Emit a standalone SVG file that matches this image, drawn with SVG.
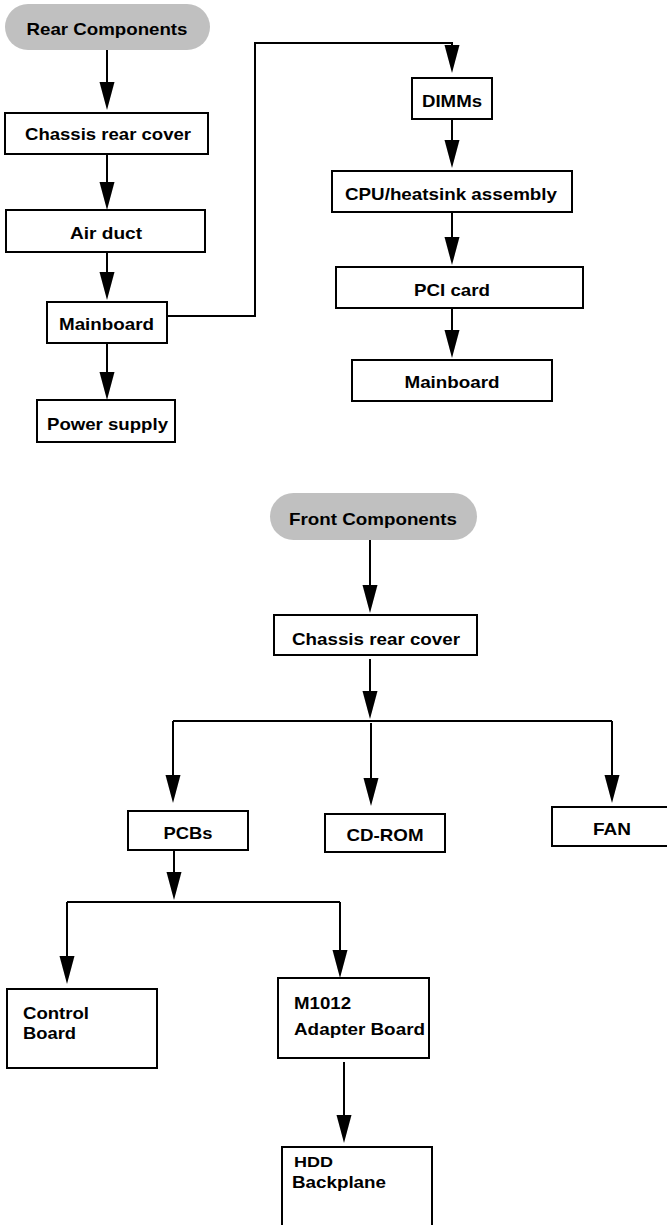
<svg xmlns="http://www.w3.org/2000/svg" width="667" height="1225" viewBox="0 0 667 1225">
<style>
.box{fill:#fff;stroke:#000;stroke-width:2}
.pill{fill:#c0c0c0;stroke:none}
.t{font-family:"Liberation Sans",Arial,sans-serif;font-weight:bold;font-size:17px;fill:#000}
.c{text-anchor:middle}
.ln{fill:none;stroke:#000;stroke-width:2;marker-end:url(#ah)}
.pl{fill:none;stroke:#000;stroke-width:2}
</style>
<defs>
<marker id="ah" markerUnits="userSpaceOnUse" markerWidth="30" markerHeight="16" refX="18" refY="8" orient="auto" viewBox="0 0 30 16">
<path d="M0,0.5 L28,8 L0,15.5 z" fill="#000"/>
</marker>
</defs>
<rect width="667" height="1225" fill="#fff"/>
<g id="connectors">
<line class="ln" x1="107" y1="50" x2="107" y2="100"/>
<line class="ln" x1="107" y1="154" x2="107" y2="200"/>
<line class="ln" x1="107" y1="252" x2="107" y2="290"/>
<line class="ln" x1="107" y1="343" x2="107" y2="390"/>
<polyline class="ln" points="167,316 255,316 255,43 452,43 452,63"/>
<line class="ln" x1="452" y1="119" x2="452" y2="158"/>
<line class="ln" x1="452" y1="212" x2="452" y2="255"/>
<line class="ln" x1="452" y1="308" x2="452" y2="348"/>
<line class="ln" x1="370" y1="540" x2="370" y2="603"/>
<line class="ln" x1="370" y1="659" x2="370" y2="709"/>
<polyline class="pl" points="173,721 612,721"/>
<line class="ln" x1="173" y1="721" x2="173" y2="793"/>
<line class="ln" x1="371" y1="723" x2="371" y2="796"/>
<line class="ln" x1="612" y1="721" x2="612" y2="793"/>
<line class="ln" x1="174" y1="850" x2="174" y2="890"/>
<polyline class="pl" points="67,902 340,902"/>
<line class="ln" x1="67" y1="902" x2="67" y2="974"/>
<line class="ln" x1="340" y1="902" x2="340" y2="968"/>
<line class="ln" x1="344" y1="1062" x2="344" y2="1133"/>
</g>
<g id="rear-components"><rect class="pill" x="5" y="4" width="205" height="46" rx="23"/><text class="t c" x="107" y="35" textLength="161" lengthAdjust="spacingAndGlyphs">Rear Components</text></g>
<g id="chassis-rear-cover-1"><rect class="box" x="5" y="113" width="203" height="41"/><text class="t c" x="108" y="140" textLength="166" lengthAdjust="spacingAndGlyphs">Chassis rear cover</text></g>
<g id="air-duct"><rect class="box" x="6" y="210" width="199" height="42"/><text class="t c" x="106" y="239" textLength="72" lengthAdjust="spacingAndGlyphs">Air duct</text></g>
<g id="mainboard-1"><rect class="box" x="47" y="302" width="120" height="41"/><text class="t c" x="106.5" y="330" textLength="95" lengthAdjust="spacingAndGlyphs">Mainboard</text></g>
<g id="power-supply"><rect class="box" x="37" y="400" width="138" height="42"/><text class="t c" x="107.5" y="430" textLength="121" lengthAdjust="spacingAndGlyphs">Power supply</text></g>
<g id="dimms"><rect class="box" x="412" y="78" width="80" height="41"/><text class="t c" x="452" y="107" textLength="60" lengthAdjust="spacingAndGlyphs">DIMMs</text></g>
<g id="cpu-heatsink"><rect class="box" x="332" y="171" width="240" height="41"/><text class="t c" x="451" y="200" textLength="212" lengthAdjust="spacingAndGlyphs">CPU/heatsink assembly</text></g>
<g id="pci-card"><rect class="box" x="336" y="267" width="247" height="41"/><text class="t c" x="452" y="296" textLength="76" lengthAdjust="spacingAndGlyphs">PCI card</text></g>
<g id="mainboard-2"><rect class="box" x="352" y="360" width="200" height="41"/><text class="t c" x="452" y="388" textLength="95" lengthAdjust="spacingAndGlyphs">Mainboard</text></g>
<g id="front-components"><rect class="pill" x="270" y="493" width="207" height="47" rx="23.5"/><text class="t c" x="373" y="525" textLength="168" lengthAdjust="spacingAndGlyphs">Front Components</text></g>
<g id="chassis-rear-cover-2"><rect class="box" x="274" y="615" width="203" height="40"/><text class="t c" x="376" y="645" textLength="168" lengthAdjust="spacingAndGlyphs">Chassis rear cover</text></g>
<g id="pcbs"><rect class="box" x="128" y="811" width="120" height="39"/><text class="t c" x="188" y="839" textLength="49" lengthAdjust="spacingAndGlyphs">PCBs</text></g>
<g id="cd-rom"><rect class="box" x="325" y="814" width="120" height="38"/><text class="t c" x="385" y="841" textLength="77" lengthAdjust="spacingAndGlyphs">CD-ROM</text></g>
<g id="fan"><rect class="box" x="552" y="807" width="130" height="39"/><text class="t c" x="612" y="835" textLength="38" lengthAdjust="spacingAndGlyphs">FAN</text></g>
<g id="control-board"><rect class="box" x="7" y="989" width="150" height="79"/><text class="t" x="23" y="1019" textLength="66" lengthAdjust="spacingAndGlyphs">Control</text><text class="t" x="23" y="1039" textLength="53" lengthAdjust="spacingAndGlyphs">Board</text></g>
<g id="m1012-adapter-board"><rect class="box" x="278" y="978" width="151" height="80"/><text class="t" x="294" y="1009" textLength="57" lengthAdjust="spacingAndGlyphs">M1012</text><text class="t" x="294" y="1035" textLength="131" lengthAdjust="spacingAndGlyphs">Adapter Board</text></g>
<g id="hdd-backplane"><rect class="box" x="282" y="1147" width="150" height="100"/><text class="t" x="294" y="1167" font-size="15" style="font-size:15px" textLength="39" lengthAdjust="spacingAndGlyphs">HDD</text><text class="t" x="292" y="1188" textLength="94" lengthAdjust="spacingAndGlyphs">Backplane</text></g>
</svg>
